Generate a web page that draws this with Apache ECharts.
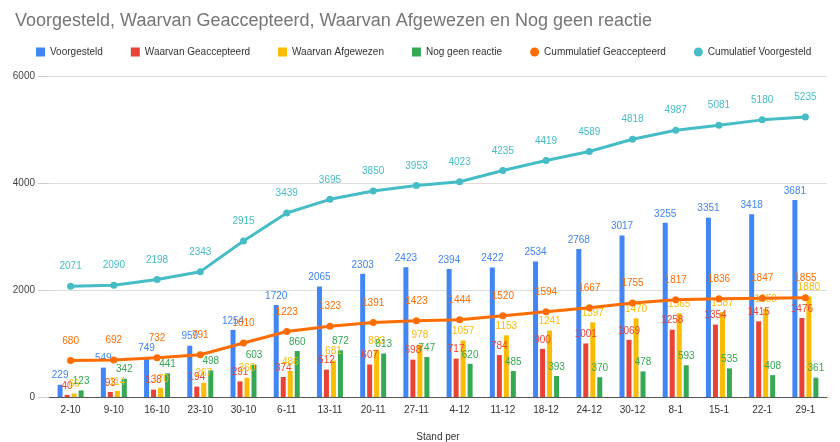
<!DOCTYPE html>
<html>
<head>
<meta charset="utf-8">
<script src="https://cdn.jsdelivr.net/npm/echarts@6/dist/echarts.min.js"></script>
<style>
  html, body { margin: 0; padding: 0; background: #fff; }
  #chart { width: 840px; height: 442px; }
</style>
</head>
<body>
<div id="chart"></div>
<script>
var categories = ['2-10', '9-10', '16-10', '23-10', '30-10', '6-11', '13-11', '20-11', '27-11',
    '4-12', '11-12', '18-12', '24-12', '30-12', '8-1', '15-1', '22-1', '29-1'];

var voorgesteld = [229, 549, 749, 959, 1254, 1720, 2065, 2303, 2423, 2394, 2422, 2534, 2768, 3017, 3255, 3351, 3418, 3681];
var geaccepteerd = [40, 93, 138, 194, 291, 374, 512, 607, 698, 717, 784, 900, 1001, 1069, 1258, 1354, 1415, 1476];
var afgewezen = [66, 114, 170, 267, 360, 486, 681, 883, 978, 1057, 1153, 1241, 1397, 1470, 1565, 1587, 1650, 1880];
var geenReactie = [123, 342, 441, 498, 603, 860, 872, 813, 747, 620, 485, 393, 370, 478, 593, 535, 408, 361];
var cumGeaccepteerd = [680, 692, 732, 791, 1010, 1223, 1323, 1391, 1423, 1444, 1520, 1594, 1667, 1755, 1817, 1836, 1847, 1855];
var cumVoorgesteld = [2071, 2090, 2198, 2343, 2915, 3439, 3695, 3850, 3953, 4023, 4235, 4419, 4589, 4818, 4987, 5081, 5180, 5235];

var yTicks = [0, 2000, 4000, 6000];

var FONT = '"Liberation Sans Narrow", "Liberation Sans", Arial, sans-serif';

function barSeries(name, data, color) {
    return {
        name: name,
        type: 'bar',
        data: data,
        barWidth: 5,
        barGap: '40%',
        itemStyle: { color: color },
        label: {
            show: true,
            position: 'top',
            distance: 4,
            color: color,
            fontSize: 10,
            fontFamily: FONT
        }
    };
}

function lineSeries(name, data, color) {
    return {
        name: name,
        type: 'line',
        data: data,
        symbol: 'circle',
        symbolSize: 7,
        z: 5,
        lineStyle: { color: color, width: 3 },
        itemStyle: { color: color },
        label: {
            show: true,
            position: 'top',
            distance: 11,
            color: color,
            fontSize: 10,
            fontFamily: FONT
        }
    };
}

var chart = echarts.init(document.getElementById('chart'));
chart.setOption({
    animation: false,
    title: {
        text: 'Voorgesteld, Waarvan Geaccepteerd, Waarvan Afgewezen en Nog geen reactie',
        left: 10,
        top: 7,
        textStyle: {
            fontSize: 18,
            fontWeight: 'normal',
            color: '#757575',
            fontFamily: '"Liberation Sans", Arial, sans-serif'
        }
    },
    legend: {
        top: 42,
        left: 31,
        itemWidth: 9,
        itemHeight: 9,
        itemGap: 28,
        textStyle: { fontSize: 10, color: '#333', fontFamily: FONT },
        data: [
            { name: 'Voorgesteld', icon: 'rect' },
            { name: 'Waarvan Geaccepteerd', icon: 'rect' },
            { name: 'Waarvan Afgewezen', icon: 'rect' },
            { name: 'Nog geen reactie', icon: 'rect' },
            { name: 'Cummulatief Geaccepteerd', icon: 'circle' },
            { name: 'Cumulatief Voorgesteld', icon: 'circle' }
        ]
    },
    grid: {
        left: 49,
        right: 13,
        top: 76,
        bottom: 45,
        outerBoundsMode: 'none'
    },
    xAxis: {
        type: 'category',
        data: categories,
        name: 'Stand per',
        nameLocation: 'middle',
        nameGap: 35,
        nameTextStyle: { fontSize: 10, color: '#333', fontFamily: FONT },
        axisTick: { show: false },
        axisLine: { lineStyle: { color: '#555', width: 1 } },
        axisLabel: { fontSize: 10, color: '#333', margin: 8, fontFamily: FONT }
    },
    yAxis: {
        type: 'value',
        min: yTicks[0],
        max: yTicks[yTicks.length - 1],
        interval: 2000,
        axisLine: { show: false },
        axisTick: { show: true, length: 11, lineStyle: { color: '#ccc' } },
        splitLine: { lineStyle: { color: '#ddd' } },
        axisLabel: {
            fontSize: 10, color: '#444', margin: 14, fontFamily: FONT,
            formatter: function (v) { return String(v); }
        }
    },
    series: [
        barSeries('Voorgesteld', voorgesteld, '#4285F4'),
        barSeries('Waarvan Geaccepteerd', geaccepteerd, '#EA4335'),
        barSeries('Waarvan Afgewezen', afgewezen, '#FBBC04'),
        barSeries('Nog geen reactie', geenReactie, '#34A853'),
        lineSeries('Cummulatief Geaccepteerd', cumGeaccepteerd, '#FF6D01'),
        lineSeries('Cumulatief Voorgesteld', cumVoorgesteld, '#46BDC6')
    ]
});
</script>
</body>
</html>
